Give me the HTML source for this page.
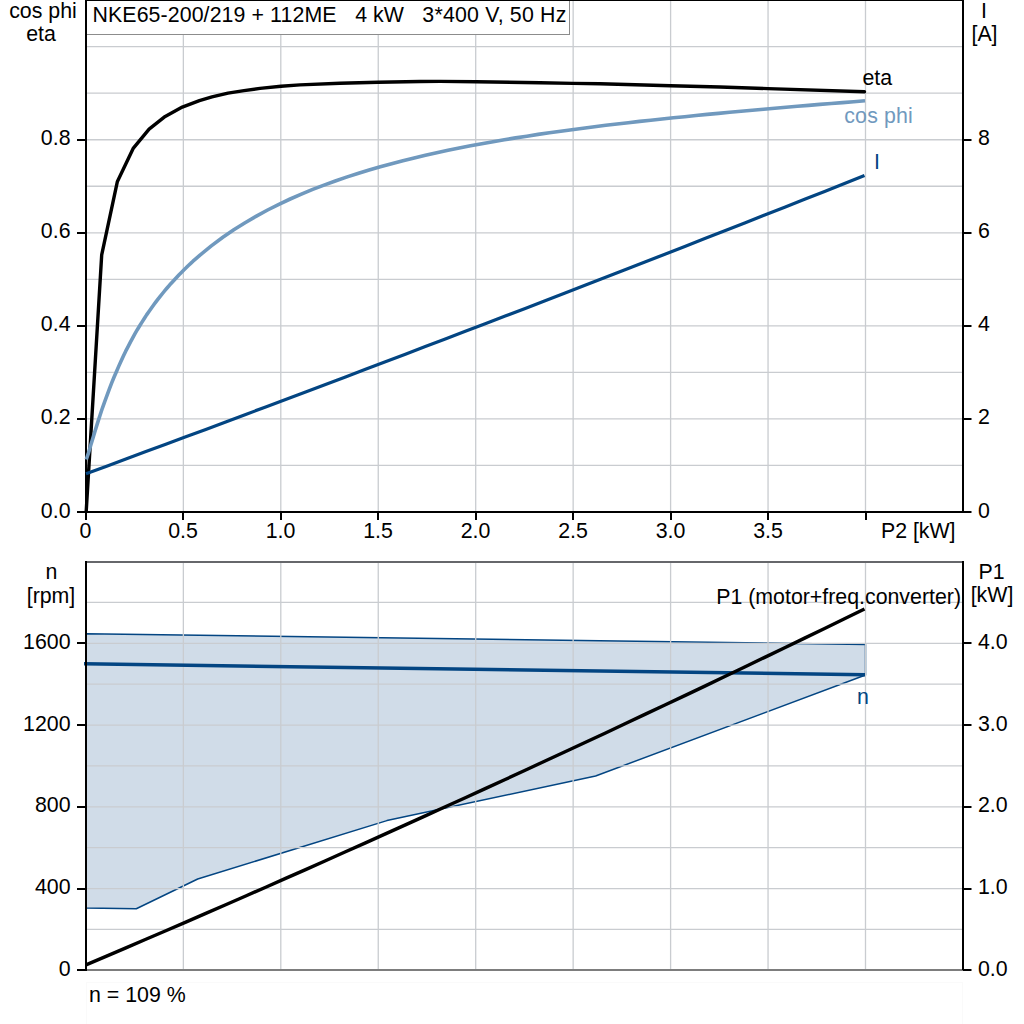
<!DOCTYPE html><html><head><meta charset="utf-8"><style>html,body{margin:0;padding:0;background:#fff;width:1024px;height:1024px;overflow:hidden}svg{display:block}text{font-family:"Liberation Sans",sans-serif;font-size:21.33px;fill:#000}</style></head><body>
<svg width="1024" height="1024" viewBox="0 0 1024 1024">
<rect width="1024" height="1024" fill="#fff"/>
<path d="M183.35 1V511 M280.80 1V511 M378.25 1V511 M475.70 1V511 M573.15 1V511 M670.60 1V511 M768.05 1V511 M865.50 1V511 M87 465.38H962 M87 418.86H962 M87 372.34H962 M87 325.82H962 M87 279.30H962 M87 232.78H962 M87 186.26H962 M87 139.74H962 M87 93.22H962 M87 46.70H962" stroke="#c9ccd0" stroke-width="1.3" fill="none"/>
<rect x="85.5" y="0.5" width="484" height="34" fill="#fff" stroke="#8c8c8c" stroke-width="1"/>
<text x="92.5" y="22" textLength="244" lengthAdjust="spacing">NKE65-200/219 + 112ME</text>
<text x="355.2" y="22">4 kW</text>
<text x="422.35" y="22" textLength="144" lengthAdjust="spacing">3*400 V, 50 Hz</text>
<path d="M85 0.5H963" stroke="#000" stroke-width="1"/>
<path d="M86 0V512 M963 0V512 M77 512H971" stroke="#000" stroke-width="2" fill="none"/>
<path d="M77 512H86 M963 512H971.5 M77 419H86 M963 419H971.5 M77 326H86 M963 326H971.5 M77 233H86 M963 233H971.5 M77 140H86 M963 140H971.5 M86 512V520 M183 512V520 M281 512V520 M378 512V520 M476 512V520 M573 512V520 M671 512V520 M768 512V520 M866 512V520" stroke="#000" stroke-width="2" fill="none"/>
<text x="70.5" y="517.8" text-anchor="end">0.0</text>
<text x="978" y="517.8">0</text>
<text x="70.5" y="423.9" text-anchor="end">0.2</text>
<text x="978" y="423.9">2</text>
<text x="70.5" y="330.9" text-anchor="end">0.4</text>
<text x="978" y="330.9">4</text>
<text x="70.5" y="237.9" text-anchor="end">0.6</text>
<text x="978" y="237.9">6</text>
<text x="70.5" y="144.9" text-anchor="end">0.8</text>
<text x="978" y="144.9">8</text>
<text x="85.5" y="538" text-anchor="middle">0</text>
<text x="183.0" y="538" text-anchor="middle">0.5</text>
<text x="280.5" y="538" text-anchor="middle">1.0</text>
<text x="378.0" y="538" text-anchor="middle">1.5</text>
<text x="475.5" y="538" text-anchor="middle">2.0</text>
<text x="573.0" y="538" text-anchor="middle">2.5</text>
<text x="670.5" y="538" text-anchor="middle">3.0</text>
<text x="768.0" y="538" text-anchor="middle">3.5</text>
<text x="881" y="538" textLength="74.5" lengthAdjust="spacing">P2 [kW]</text>
<text x="43" y="18" text-anchor="middle">cos phi</text>
<text x="41" y="41" text-anchor="middle">eta</text>
<text x="984" y="18" text-anchor="middle">I</text>
<text x="984.5" y="41" text-anchor="middle">[A]</text>
<polyline points="86.2,511.5 101.7,254.9 117.3,181.8 133.4,148.1 149.1,129.1 165.2,116.4 182.3,107.1 199.4,100.7 212,96.9 228,93.1 244,90.6 260,88.4 281,86.3 300,84.9 340,83.25 378,82.2 420,81.5 440,81.4 476,81.7 540,82.8 573,83.4 600,83.8 670.6,85.7 720,87 768,88.6 864.5,91.7" fill="none" stroke="#000" stroke-width="3.4" stroke-linejoin="round" stroke-linecap="round"/>
<polyline points="86.3,459.5 88.6,452.6 90.9,444.7 93.3,436.9 95.6,429.3 97.9,421.9 100.2,414.7 102.5,407.8 104.9,401.2 107.2,394.8 109.5,388.7 111.8,382.7 114.1,377.0 116.5,371.5 118.8,366.1 121.1,361.0 123.4,356.0 125.7,351.2 128.1,346.6 130.4,342.1 132.7,337.8 135.0,333.7 137.3,329.7 139.7,325.8 142.0,322.1 144.3,318.5 146.6,314.9 149.0,311.5 151.3,308.2 153.6,305.0 155.9,301.9 158.2,298.9 160.6,295.9 162.9,293.0 165.2,290.2 167.5,287.5 169.8,284.8 172.2,282.2 174.5,279.7 176.8,277.2 179.1,274.7 181.4,272.4 183.8,270.0 186.1,267.8 188.4,265.5 190.7,263.4 193.0,261.2 195.4,259.1 197.7,257.1 200.0,255.1 211.3,245.9 222.5,237.5 233.8,229.8 245.1,222.7 256.4,216.1 267.6,210.0 278.9,204.3 290.2,199.0 301.4,194.1 312.7,189.4 324.0,185.1 335.3,181.0 346.5,177.1 357.8,173.5 369.1,170.0 380.3,166.8 391.6,163.7 402.9,160.7 414.2,157.9 425.4,155.3 436.7,152.8 448.0,150.3 459.2,148.0 470.5,145.8 481.8,143.7 493.1,141.7 504.3,139.8 515.6,137.9 526.9,136.2 538.1,134.4 549.4,132.8 560.7,131.2 571.9,129.7 583.2,128.2 594.5,126.7 605.8,125.3 617.0,124.0 628.3,122.7 639.6,121.4 650.8,120.2 662.1,119.0 673.4,117.8 684.7,116.7 695.9,115.5 707.2,114.4 718.5,113.4 729.7,112.3 741.0,111.3 752.3,110.3 763.6,109.3 774.8,108.3 786.1,107.3 797.4,106.3 808.6,105.4 819.9,104.4 831.2,103.5 842.5,102.6 853.7,101.7 865.0,100.8" fill="none" stroke="#7099be" stroke-width="3.6" stroke-linejoin="round" stroke-linecap="butt"/>
<polyline points="86.0,473.7 106.0,466.4 125.9,459.0 145.9,451.6 165.8,444.2 185.8,436.8 205.8,429.4 225.7,421.9 245.7,414.4 265.7,407.0 285.6,399.5 305.6,392.0 325.5,384.4 345.5,376.9 365.5,369.3 385.4,361.8 405.4,354.2 425.3,346.6 445.3,339.0 465.3,331.3 485.2,323.7 505.2,316.0 525.2,308.4 545.1,300.7 565.1,293.0 585.0,285.2 605.0,277.5 625.0,269.7 644.9,262.0 664.9,254.2 684.8,246.4 704.8,238.6 724.8,230.7 744.7,222.9 764.7,215.0 784.7,207.2 804.6,199.3 824.6,191.4 844.5,183.4 864.5,175.5" fill="none" stroke="#034582" stroke-width="3.2" stroke-linejoin="round"/>
<text x="862.5" y="85">eta</text>
<text x="844.3" y="123" textLength="68.5" lengthAdjust="spacing" style="fill:#7099be">cos phi</text>
<text x="874" y="169" style="fill:#034582">I</text>
<polygon points="86,633.7 865.5,644.5 865.5,675 595.6,776 386.9,820.6 197.7,879 136.3,908.75 86,908" fill="#d0dce8" stroke="#034582" stroke-width="1.5" stroke-linejoin="round"/>
<path d="M183.35 563V969 M280.80 563V969 M378.25 563V969 M475.70 563V969 M573.15 563V969 M670.60 563V969 M768.05 563V969 M865.50 563V969 M87 929.41H962 M87 888.54H962 M87 847.67H962 M87 806.80H962 M87 765.93H962 M87 725.06H962 M87 684.19H962 M87 643.32H962 M87 602.45H962" stroke="#c9ccd0" stroke-width="1.3" fill="none"/>
<polyline points="84,663.85 865,674.75" fill="none" stroke="#034582" stroke-width="3.5"/>
<polyline points="86.0,964.9 106.0,956.4 125.9,947.9 145.9,939.3 165.8,930.7 185.8,922.1 205.8,913.4 225.7,904.7 245.7,896.0 265.7,887.2 285.6,878.4 305.6,869.6 325.5,860.7 345.5,851.8 365.5,842.9 385.4,833.9 405.4,824.9 425.3,815.9 445.3,806.8 465.3,797.7 485.2,788.6 505.2,779.5 525.2,770.3 545.1,761.0 565.1,751.8 585.0,742.5 605.0,733.2 625.0,723.8 644.9,714.4 664.9,705.0 684.8,695.6 704.8,686.1 724.8,676.5 744.7,667.0 764.7,657.4 784.7,647.8 804.6,638.1 824.6,628.5 844.5,618.8 864.5,609.0" fill="none" stroke="#000" stroke-width="3.4" stroke-linejoin="round"/>
<path d="M85 562H963" stroke="#66676b" stroke-width="2"/>
<path d="M86 970H963" stroke="#7d7d7d" stroke-width="2"/>
<path d="M86 561V971 M963 561V970" stroke="#000" stroke-width="2" fill="none"/>
<path d="M77 970H86 M963 970H971.5 M77 889H86 M963 889H971.5 M77 807H86 M963 807H971.5 M77 725H86 M963 725H971.5 M77 643H86 M963 643H971.5" stroke="#000" stroke-width="2" fill="none"/>
<text x="70.5" y="975.8" text-anchor="end">0</text>
<text x="978" y="975.8">0.0</text>
<text x="70.5" y="894.0" text-anchor="end">400</text>
<text x="978" y="894.0">1.0</text>
<text x="70.5" y="812.3" text-anchor="end">800</text>
<text x="978" y="812.3">2.0</text>
<text x="70.5" y="730.5" text-anchor="end">1200</text>
<text x="978" y="730.5">3.0</text>
<text x="70.5" y="648.7" text-anchor="end">1600</text>
<text x="978" y="648.7">4.0</text>
<text x="51.5" y="579" text-anchor="middle">n</text>
<text x="51" y="602.5" text-anchor="middle">[rpm]</text>
<text x="991.5" y="579" text-anchor="middle">P1</text>
<text x="992" y="602" text-anchor="middle">[kW]</text>
<text x="961" y="604" text-anchor="end">P1 (motor+freq.converter)</text>
<text x="857" y="703.5" style="fill:#034582">n</text>
<rect x="86.5" y="982.5" width="876" height="50" fill="none" stroke="#fafafa" stroke-width="1"/>
<text x="89" y="1001.5">n = 109 %</text>
</svg></body></html>
